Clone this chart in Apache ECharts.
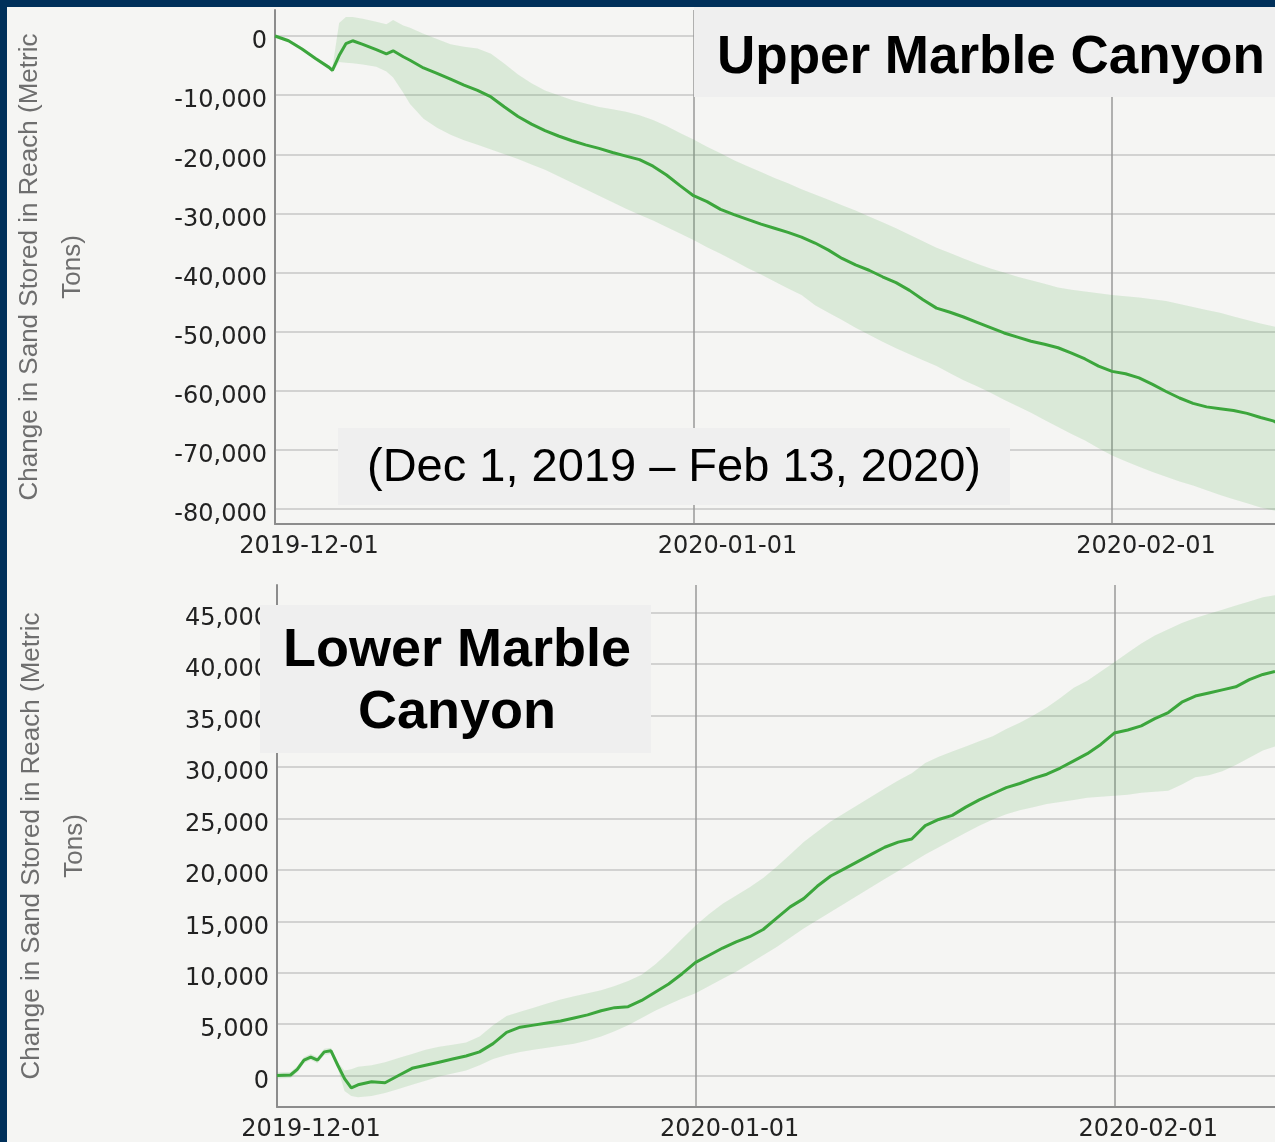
<!DOCTYPE html>
<html>
<head>
<meta charset="utf-8">
<title>Change in Sand Stored in Reach - Marble Canyon</title>
<script src="https://cdn.jsdelivr.net/npm/echarts@6/dist/echarts.min.js"></script>
<style>
    html, body { margin: 0; padding: 0; background: #f5f5f3; }
    #chart { width: 1275px; height: 1142px; }
</style>
</head>
<body>
<div id="chart"></div>
<script>
    // days after 2019-12-01 for each sample, Upper Marble Canyon
    var umcDays = [0, 1, 2, 3, 4, 4.25, 4.75, 5.25, 5.75, 6.5, 7.5, 8.25, 8.75, 9.5,
        10, 11, 12, 13, 14, 15, 16, 17, 18, 19, 20, 21, 22, 23, 24, 25, 26, 27, 28, 29,
        30, 31, 32, 33, 34, 35, 36, 37, 38, 39, 40, 41, 42, 43, 44, 45, 46, 47, 48, 49,
        50, 51, 52, 53, 54, 55, 56, 57, 58, 59, 60, 61, 62, 63, 64, 65, 66, 67, 68, 69,
        70, 71, 72, 73, 74, 74.1];
    var umcMedian = [0, -800, -2200, -3800, -5300, -5800, -3300, -1300, -800, -1400, -2300, -3000, -2500, -3500,
        -4100, -5400, -6300, -7300, -8300, -9200, -10300, -12000, -13600, -14900,
        -16000, -16900, -17700, -18400, -19000, -19700, -20300, -20900, -22000, -23500,
        -25300, -27000, -28000, -29300, -30200, -31000, -31800, -32500, -33200, -34000,
        -35000, -36200, -37600, -38700, -39600, -40700, -41700, -43000, -44600, -46000,
        -46700, -47500, -48400, -49300, -50200, -50900, -51600, -52100, -52700, -53600,
        -54600, -55800, -56700, -57100, -57800, -58900, -60100, -61200, -62100, -62700,
        -63000, -63300, -63800, -64500, -65100, -65300];
    var umcHigh = [300, -500, -1900, -3500, -5000, -5400, 2200, 3200, 3200, 2900, 2400, 2000, 2700, 1800,
        1400, 400, -500, -1400, -1800, -2100, -3000, -4700, -6500, -8000,
        -9200, -10000, -10800, -11400, -12000, -12400, -12800, -13400, -14200, -15200,
        -16400, -17500, -18700, -19800, -21000, -22000, -23000, -24000, -24900, -25900,
        -26800, -27700, -28600, -29500, -30500, -31500, -32500, -33600, -34700, -35800,
        -36700, -37600, -38500, -39300, -40000, -40700, -41300, -41900, -42500, -42900,
        -43200, -43500, -43800, -44000, -44200, -44500, -44800, -45300, -45800, -46300,
        -46800, -47400, -48000, -48600, -49100, -49200];
    var umcLow = [-300, -1100, -2500, -4100, -5600, -6200, -4400, -4500, -4600, -4800, -5200, -6000, -7000, -9600,
        -11500, -14000, -15500, -16700, -17600, -18400, -19200, -20000, -20800, -21700,
        -22600, -23700, -24800, -25900, -27000, -28100, -29200, -30200, -31200, -32300,
        -33400, -34500, -35700, -36800, -38000, -39200, -40300, -41500, -42700, -43800,
        -45500, -46800, -48000, -49300, -50500, -51700, -52800, -53800, -54800, -55800,
        -57000, -58200, -59200, -60300, -61500, -62600, -63700, -64900, -66100, -67300,
        -68400, -69700, -70900, -71900, -72800, -73700, -74500, -75300, -76000, -76800,
        -77600, -78300, -79000, -79700, -80200, -80300];

    // days after 2019-12-01 for each sample, Lower Marble Canyon
    var lmcDays = [0, 1, 1.5, 2, 2.5, 3, 3.5, 4, 4.5, 5, 5.5, 6, 7, 8, 9,
        10, 11, 12, 13, 14, 15, 16, 17, 18, 19, 20, 21, 22, 23, 24, 25, 26, 27, 28, 29,
        30, 31, 32, 33, 34, 35, 36, 37, 38, 39, 40, 41, 42, 43, 44, 45, 46, 47, 48, 49,
        50, 51, 52, 53, 54, 55, 56, 57, 58, 59, 60, 61, 62, 63, 64, 65, 66, 67, 68, 69,
        70, 71, 72, 73, 73.9];
    var lmcMedian = [0, 50, 600, 1500, 1800, 1500, 2300, 2400, 1000, -300, -1200, -900, -600, -700, 0,
        700, 1000, 1300, 1600, 1900, 2300, 3100, 4200, 4700, 4900,
        5100, 5300, 5600, 5900, 6300, 6600, 6700, 7300, 8100, 8900,
        9900, 11000, 11700, 12400, 13000, 13500, 14200, 15300, 16400, 17200,
        18400, 19400, 20100, 20800, 21500, 22200, 22700, 23000, 24300, 24900,
        25300, 26100, 26800, 27400, 28000, 28400, 28900, 29300, 29900, 30600,
        31300, 32200, 33300, 33600, 34000, 34700, 35300, 36300, 36900, 37200,
        37500, 37800, 38500, 39000, 39300];
    var lmcHigh = [300, 350, 900, 1800, 2100, 1800, 2600, 2700, 1300, 500, 600, 850, 1000, 1300, 1700,
        2100, 2500, 2800, 3000, 3200, 3800, 4900, 5800, 6200, 6600,
        7000, 7400, 7700, 8000, 8300, 8700, 9200, 9800, 10800, 12000,
        13300, 14600, 15700, 16700, 17500, 18300, 19200, 20300, 21500, 22700,
        23700, 24700, 25500, 26300, 27100, 27900, 28700, 29400, 30400, 31000,
        31500, 32000, 32500, 33000, 33700, 34300, 35000, 35800, 36700, 37700,
        38400, 39300, 40200, 41100, 42000, 42800, 43400, 44000, 44500, 44900,
        45300, 45700, 46100, 46500, 46700];
    var lmcLow = [-300, -250, 300, 1200, 1500, 1200, 2000, 2100, 700, -1500, -2000, -2100, -2000, -1700, -1300,
        -900, -500, -100, 200, 500, 1000, 1600, 2000, 2300, 2500,
        2700, 2900, 3100, 3400, 3800, 4300, 4900, 5600, 6300, 6900,
        7500, 8000, 8700, 9400, 10100, 10900, 11700, 12500, 13400, 14300,
        15100, 15900, 16700, 17500, 18300, 19100, 19900, 20700, 21500, 22200,
        22900, 23600, 24300, 24900, 25400, 25800, 26100, 26400, 26600, 26800,
        27000, 27100, 27200, 27300, 27500, 27600, 27700, 28300, 29000, 29200,
        29600, 30200, 30900, 31600, 32000];

    // tick labels
    var umcTicks = [0, -10000, -20000, -30000, -40000, -50000, -60000, -70000, -80000];
    var lmcTicks = [0, 5000, 10000, 15000, 20000, 25000, 30000, 35000, 40000, 45000];
    var monthTicks = ['2019-12-01', '2020-01-01', '2020-02-01'];

    var yTitle = 'Change in Sand Stored in Reach (Metric\nTons)';
    var DAY = 86400000;
    var start = new Date(2019, 11, 1).getTime();
    // month starts as day offsets from 2019-12-01
    var monthDays = monthTicks.map(function(s) {
        var p = s.split('-');
        return Math.round((new Date(+p[0], +p[1] - 1, +p[2]).getTime() - start) / DAY);
    });

    function pairs(days, values) {
        return days.map(function(d, i) { return [d, values[i]]; });
    }
    function fmtDay(d) {
        var i = monthDays.indexOf(Math.round(d));
        return i >= 0 ? monthTicks[i] : '';
    }

    var green = '#3ca63c';
    var bandColor = 'rgba(70, 165, 70, 0.15)';

    function dayAxis(gridIndex, maxDays) {
        return {
            type: 'value',
            gridIndex: gridIndex,
            min: 0,
            max: maxDays,
            axisLine: { show: true, onZero: false, lineStyle: { color: '#8c8c8c', width: 2 } },
            axisTick: { show: false, customValues: monthDays },
            axisLabel: {
                customValues: monthDays,
                formatter: fmtDay,
                fontFamily: 'DejaVu Sans',
                fontSize: 24,
                color: '#222',
                margin: 11,
                padding: [0, 0, 0, 68]
            },
            splitLine: { show: true, lineStyle: { color: '#999999', width: 1.5 } }
        };
    }

    function valueAxis(gridIndex, min, max, ticks) {
        return {
            type: 'value',
            gridIndex: gridIndex,
            min: min,
            max: max,
            name: yTitle,
            nameLocation: 'middle',
            nameGap: 181,
            nameTextStyle: { fontFamily: 'Liberation Sans', fontSize: 26, lineHeight: 43, color: '#6e6e6e' },
            axisLine: { show: true, onZero: false, lineStyle: { color: '#8c8c8c', width: 2 } },
            axisTick: { show: false, customValues: ticks },
            axisLabel: {
                customValues: ticks,
                formatter: function(v) { return v.toLocaleString('en-US'); },
                fontFamily: 'DejaVu Sans',
                fontSize: 24,
                color: '#222',
                margin: 8,
                verticalAlign: 'top',
                lineHeight: 12
            },
            splitLine: { show: true, lineStyle: { color: '#c6c6c6', width: 1.5 } }
        };
    }

    // uncertainty band: one polygon from the high edge and back along the low edge
    function bandSeries(idx, days, high, low) {
        var rows = days.map(function(d, i) { return [d, high[i], low[i]]; });
        return {
            type: 'custom',
            xAxisIndex: idx,
            yAxisIndex: idx,
            data: rows,
            encode: { x: 0, y: [1, 2] },
            silent: true,
            z: 1,
            renderItem: function(params, api) {
                if (params.dataIndex !== 0) {
                    return null;
                }
                var pts = [];
                var i;
                for (i = 0; i < rows.length; i++) {
                    pts.push(api.coord([rows[i][0], rows[i][1]]));
                }
                for (i = rows.length - 1; i >= 0; i--) {
                    pts.push(api.coord([rows[i][0], rows[i][2]]));
                }
                return {
                    type: 'polygon',
                    shape: { points: pts },
                    style: { fill: bandColor, stroke: null }
                };
            }
        };
    }

    function medianSeries(idx, days, values) {
        return {
            type: 'line',
            xAxisIndex: idx,
            yAxisIndex: idx,
            symbol: 'none',
            lineStyle: { color: green, width: 3 },
            data: pairs(days, values),
            z: 3
        };
    }

    var chart = echarts.init(document.getElementById('chart'));
    var option = {
        backgroundColor: '#f5f5f3',
        animation: false,
        grid: [
            { left: 275, top: 10, right: 0, height: 514 },
            { left: 277, top: 585, right: 0, height: 522 }
        ],
        xAxis: [dayAxis(0, 74.07), dayAxis(1, 73.9)],
        yAxis: [
            valueAxis(0, -82500, 4400, umcTicks),
            valueAxis(1, -3060, 47700, lmcTicks)
        ],
        series: [
            bandSeries(0, umcDays, umcHigh, umcLow),
            medianSeries(0, umcDays, umcMedian),
            bandSeries(1, lmcDays, lmcHigh, lmcLow),
            medianSeries(1, lmcDays, lmcMedian)
        ],
        graphic: [
            // navy frame
            { type: 'rect', shape: { x: 0, y: 0, width: 1275, height: 7 }, style: { fill: '#00305a' }, z: 100 },
            { type: 'rect', shape: { x: 0, y: 0, width: 7, height: 1142 }, style: { fill: '#00305a' }, z: 100 },
            // reach labels
            { type: 'rect', shape: { x: 694, y: 7, width: 581, height: 90 }, style: { fill: '#efefef' }, z: 50 },
            {
                type: 'text', x: 717, y: 58, z: 51,
                style: { text: 'Upper Marble Canyon', font: 'bold 53px "Liberation Sans", Arial, sans-serif',
                    fill: '#000', align: 'left', verticalAlign: 'middle' }
            },
            { type: 'rect', shape: { x: 338, y: 428, width: 672, height: 77 }, style: { fill: '#efefef' }, z: 50 },
            {
                type: 'text', x: 674, y: 468, z: 51,
                style: { text: '(Dec 1, 2019 \u2013 Feb 13, 2020)', font: '47px "Liberation Sans", Arial, sans-serif',
                    fill: '#000', align: 'center', verticalAlign: 'middle' }
            },
            { type: 'rect', shape: { x: 260, y: 605, width: 391, height: 148 }, style: { fill: '#efefef' }, z: 50 },
            {
                type: 'text', x: 457, y: 682, z: 51,
                style: { text: 'Lower Marble\nCanyon', font: 'bold 54px "Liberation Sans", Arial, sans-serif',
                    lineHeight: 62, fill: '#000', align: 'center', verticalAlign: 'middle' }
            }
        ]
    };
    chart.setOption(option);
</script>
</body>
</html>
